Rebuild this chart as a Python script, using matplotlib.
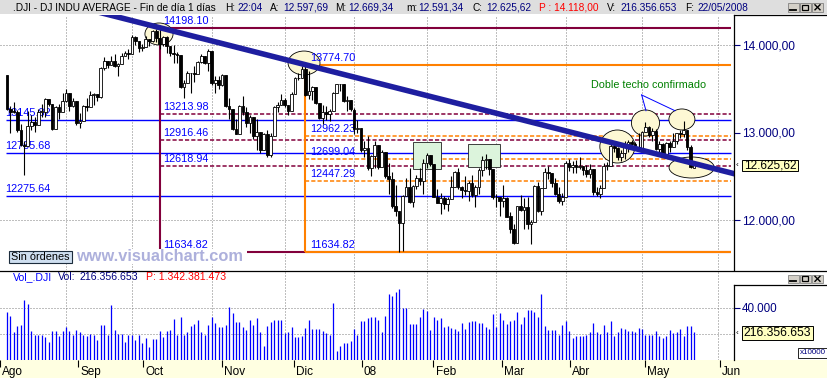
import matplotlib
matplotlib.use("Agg")
import matplotlib.pyplot as plt
from matplotlib.patches import Ellipse, Rectangle

plt.rcParams['font.family'] = ['Liberation Sans', 'DejaVu Sans']
plt.rcParams['lines.scale_dashes'] = False

W, H = 828, 378

# ---------------- data (daily .DJI, 9 Aug 2007 - 22 May 2008) ----------------
opens_aug = [13657, 13270, 13240, 13236, 13028, 12860, 12846, 13079, 13121, 13091, 13236, 13236, 13378, 13322, 13042, 13289, 13239]
highs_aug = [13660, 13300, 13350, 13260, 13100, 12900, 13250, 13200, 13180, 13270, 13330, 13390, 13380, 13322, 13300, 13330, 13450]
lows_aug = [13260, 12990, 13220, 13010, 12850, 12518, 12846, 13030, 13010, 13091, 13180, 13180, 13300, 13030, 13042, 13150, 13239]
closes_aug = [13271, 13240, 13237, 13029, 12861, 12846, 13079, 13121, 13091, 13236, 13236, 13379, 13322, 13042, 13289, 13239, 13358]

opens_sep = [13358, 13448, 13305, 13363, 13113, 13128, 13308, 13292, 13425, 13442, 13403, 13739, 13815, 13767, 13820, 13759, 13779, 13878, 13913]
highs_sep = [13500, 13448, 13390, 13363, 13220, 13320, 13390, 13470, 13450, 13442, 13750, 13860, 13820, 13880, 13900, 13790, 13910, 13935, 13950]
lows_sep = [13350, 13250, 13290, 13090, 13050, 13128, 13250, 13292, 13320, 13360, 13400, 13720, 13740, 13767, 13750, 13650, 13779, 13870, 13840]
closes_sep = [13449, 13305, 13363, 13113, 13128, 13308, 13292, 13425, 13443, 13403, 13739, 13816, 13767, 13820, 13759, 13779, 13878, 13913, 13896]

opens_oct = [13896, 14087, 14047, 13968, 13974, 14066, 14044, 14164, 14079, 14015, 14093, 13985, 13913, 13893, 13889, 13522, 13567, 13676, 13675, 13672, 13807, 13870, 13792]
highs_oct = [14110, 14100, 14047, 14010, 14100, 14066, 14170, 14180, 14198.10, 14100, 14100, 13985, 14000, 13920, 13890, 13600, 13700, 13680, 13760, 13820, 13900, 13870, 13950]
lows_oct = [13896, 14000, 13920, 13930, 13974, 13990, 14030, 14040, 13960, 13990, 13910, 13870, 13800, 13800, 13510, 13400, 13567, 13450, 13580, 13672, 13800, 13780, 13700]
closes_oct = [14088, 14047, 13968, 13974, 14066, 14044, 14165, 14079, 14015, 14093, 13985, 13913, 13893, 13889, 13522, 13567, 13676, 13675, 13672, 13807, 13870, 13792, 13930]

opens_nov = [13930, 13568, 13595, 13543, 13661, 13300, 13266, 13043, 12988, 13307, 13231, 13110, 13177, 12958, 13010, 12799, 12981, 12743, 12958, 13289, 13312]
highs_nov = [13930, 13650, 13650, 13670, 13661, 13400, 13266, 13150, 13320, 13420, 13290, 13200, 13177, 13150, 13010, 12990, 13030, 12990, 13300, 13350, 13440]
lows_nov = [13540, 13450, 13500, 13530, 13290, 13150, 13030, 12980, 12988, 13200, 13060, 13000, 12930, 12800, 12770, 12799, 12720, 12720, 12958, 13230, 13312]
closes_nov = [13568, 13595, 13543, 13661, 13300, 13266, 13043, 12988, 13307, 13231, 13110, 13177, 12958, 13010, 12799, 12981, 12743, 12958, 13289, 13312, 13372]

opens_dec = [13372, 13315, 13249, 13445, 13620, 13626, 13727, 13433, 13474, 13518, 13340, 13167, 13232, 13207, 13246, 13451, 13549, 13552, 13360, 13366]
highs_dec = [13390, 13315, 13460, 13630, 13680, 13760, 13774.70, 13700, 13530, 13518, 13340, 13320, 13300, 13270, 13460, 13560, 13560, 13552, 13420, 13366]
lows_dec = [13290, 13200, 13249, 13445, 13600, 13626, 13420, 13380, 13370, 13330, 13150, 13100, 13140, 13130, 13246, 13451, 13470, 13350, 13250, 13250]
closes_dec = [13315, 13249, 13445, 13620, 13626, 13727, 13433, 13474, 13518, 13340, 13167, 13232, 13207, 13246, 13451, 13549, 13552, 13360, 13366, 13265]

opens_jan = [13262, 13044, 13057, 12800, 12827, 12589, 12735, 12853, 12606, 12778, 12501, 12466, 12159, 12099, 11971, 12270, 12379, 12207, 12384, 12480, 12443]
highs_jan = [13280, 13140, 13057, 12900, 12960, 12740, 12900, 12853, 12800, 12778, 12650, 12550, 12400, 12100, 12290, 12480, 12600, 12400, 12520, 12600, 12700]
lows_jan = [12980, 12990, 12780, 12720, 12570, 12500, 12600, 12580, 12606, 12480, 12300, 12140, 12050, 11634.82, 11650, 12270, 12200, 12150, 12350, 12400, 12300]
closes_jan = [13044, 13057, 12800, 12827, 12589, 12735, 12853, 12606, 12778, 12501, 12466, 12159, 12099, 11971, 12270, 12379, 12207, 12384, 12480, 12443, 12650]

opens_feb = [12650, 12743, 12635, 12265, 12200, 12247, 12182, 12240, 12373, 12552, 12377, 12348, 12337, 12427, 12284, 12381, 12570, 12685, 12694, 12582]
highs_feb = [12770, 12743, 12635, 12360, 12310, 12280, 12260, 12500, 12560, 12600, 12390, 12500, 12450, 12520, 12400, 12600, 12730, 12750, 12694, 12582]
lows_feb = [12600, 12620, 12260, 12190, 12070, 12130, 12100, 12240, 12373, 12360, 12250, 12290, 12220, 12260, 12150, 12300, 12500, 12580, 12520, 12240]
closes_feb = [12743, 12635, 12265, 12200, 12247, 12182, 12240, 12373, 12552, 12377, 12348, 12337, 12427, 12284, 12381, 12570, 12685, 12694, 12582, 12266]

opens_mar = [12266, 12259, 12214, 12255, 12040, 11894, 11740, 12157, 12110, 12146, 11951, 11972, 12393, 12100, 12361, 12549, 12533, 12423, 12302, 12216]
highs_mar = [12300, 12260, 12400, 12260, 12090, 11960, 12160, 12290, 12250, 12260, 12000, 12400, 12430, 12370, 12600, 12620, 12533, 12480, 12380, 12310]
lows_mar = [12150, 12050, 12150, 12030, 11850, 11730, 11740, 12100, 11900, 11900, 11730, 11972, 12090, 12060, 12361, 12470, 12380, 12290, 12200, 12170]
closes_mar = [12259, 12214, 12255, 12040, 11894, 11740, 12157, 12110, 12146, 11951, 11972, 12393, 12100, 12361, 12549, 12533, 12423, 12302, 12216, 12263]

opens_apr = [12263, 12654, 12609, 12626, 12609, 12612, 12576, 12527, 12582, 12325, 12302, 12362, 12619, 12620, 12849, 12825, 12720, 12763, 12849, 12892, 12872, 12831]
highs_apr = [12670, 12700, 12680, 12690, 12720, 12620, 12630, 12640, 12582, 12380, 12400, 12650, 12660, 12890, 12890, 12830, 12800, 12900, 12920, 12920, 12890, 13000]
lows_apr = [12263, 12560, 12540, 12540, 12580, 12510, 12490, 12480, 12290, 12270, 12250, 12362, 12570, 12620, 12780, 12690, 12680, 12700, 12780, 12860, 12800, 12800]
closes_apr = [12654, 12609, 12626, 12609, 12612, 12576, 12527, 12582, 12325, 12302, 12362, 12619, 12620, 12849, 12825, 12720, 12763, 12849, 12892, 12872, 12831, 12820]

opens_may = [12820, 13010, 13058, 12970, 13021, 12814, 12867, 12746, 12876, 12832, 12898, 12993, 12987, 13028, 12829, 12597.69]
highs_may = [13020, 13120, 13070, 13050, 13040, 12900, 12880, 12890, 12900, 13000, 13000, 13030, 13136, 13028, 12860, 12669.34]
lows_may = [12810, 13010, 12950, 12900, 12800, 12780, 12720, 12746, 12780, 12832, 12870, 12940, 12950, 12800, 12590, 12591.34]
closes_may = [13010, 13058, 12970, 13021, 12814, 12867, 12746, 12876, 12832, 12898, 12993, 12987, 13028, 12829, 12601, 12625.62]

# volume, in units of 10000 shares (axis "x10000")
volumes = [
    36636, 34056, 21156, 26316, 27090, 46440, 43086, 22446, 19092, 19092, 19092, 17544, 14190, 22446, 21930, 18576, 22446,
    25542, 22446, 19092, 22962, 21672, 19092, 18576, 19866, 19092, 15480, 27090, 27090, 19092, 42570, 22962, 19866, 19866, 14190, 19092,
    19092, 15480, 19092, 13416, 17286, 9804, 16512, 16512, 22446, 18060, 22446, 22962, 31734, 19092, 33282, 19092, 21672, 25800, 27606, 30960, 21672, 19092, 27090,
    33282, 28380, 25542, 25026, 27090, 40764, 35862, 29154, 29154, 25542, 22962, 30960, 27090, 32508, 21672, 10836, 26316, 29154, 30444, 30444, 30444,
    20640, 21672, 25026, 18060, 17544, 18576, 24510, 30960, 23736, 23736, 23736, 22446, 20640, 19092, 43602, 6966, 10836, 13416, 13416, 14964,
    23736, 19092, 29928, 29928, 32508, 33282, 33282, 30960, 21672, 34056, 51084, 49536, 52374, 54954, 39732, 39732, 27864, 27864, 27864, 33282, 39216,
    37926, 23220, 33282, 30444, 32508, 25542, 26316, 24510, 23736, 22446, 28638, 23736, 29154, 29670, 29928, 28638, 28638, 25542, 23994, 35604,
    25542, 35862, 30444, 27864, 29928, 30960, 37152, 27864, 33282, 38700, 38700, 37152, 33024, 51084, 26316, 23220, 23220, 23220, 19092, 27090,
    29928, 22446, 17286, 18576, 18576, 18576, 19092, 21672, 28638, 21156, 19866, 27090, 21156, 30186, 18576, 21156, 24510, 23994, 21930, 22446, 21156, 24510,
    23994, 19092, 19092, 19092, 22446, 18576, 17286, 18576, 23220, 20640, 21156, 23994, 18576, 26316, 26316, 21636,
]

opens = opens_aug + opens_sep + opens_oct + opens_nov + opens_dec + opens_jan + opens_feb + opens_mar + opens_apr + opens_may
highs = highs_aug + highs_sep + highs_oct + highs_nov + highs_dec + highs_jan + highs_feb + highs_mar + highs_apr + highs_may
lows = lows_aug + lows_sep + lows_oct + lows_nov + lows_dec + lows_jan + lows_feb + lows_mar + lows_apr + lows_may
closes = closes_aug + closes_sep + closes_oct + closes_nov + closes_dec + closes_jan + closes_feb + closes_mar + closes_apr + closes_may

month_labels = ['Ago', 'Sep', 'Oct', 'Nov', 'Dic', '08', 'Feb', 'Mar', 'Abr', 'May', 'Jun']
month_index = [-6, 17, 36, 59, 80, 100, 121, 141, 161, 183, 205]

price_ticks = [12000, 13000, 14000]
price_tick_labels = ['12.000,00', '13.000,00', '14.000,00']
vol_ticks = [40000]
vol_tick_labels = ['40.000']

# Fibonacci retracements and support lines
fib1_anchor = 44            # bar of the 14198.10 high
fib1_levels = [14198.10, 13213.98, 12916.46, 12618.94, 11634.82]
fib1_labels = ['14198.10', '13213.98', '12916.46', '12618.94', '11634.82']
fib2_anchor = 86            # bar of the 13774.70 high
fib2_levels = [13774.70, 12962.23, 12699.04, 12447.29, 11634.82]
fib2_labels = ['13774.70', '12962.23', '12699.04', '12447.29', '11634.82']
support_levels = [13145.82, 12765.68, 12275.64]
support_labels = ['13145.82', '12765.68', '12275.64']

# down trend line through the two highs
trend_pts = [(44, 14198.10), (86, 13774.70)]

# ---------------- layout helpers ----------------
PXB = 3.47     # pixels per bar
XOFF = 7.0     # pixel of bar 0
X0 = (0 - XOFF) / PXB
X1 = (734 - XOFF) / PXB
XR = (731.5 - XOFF) / PXB


def rect(x0, y0, x1, y1):
    return [x0 / W, 1 - y1 / H, (x1 - x0) / W, (y1 - y0) / H]


fig = plt.figure(figsize=(W / 100, H / 100), dpi=100)
fig.patch.set_facecolor('white')

MAROON = '#82003c'
ORANGE = '#ff8000'
BLUE = '#0000ff'
NAVY = '#000080'
TREND = '#1e1ea0'
GRID = '#808080'
DOT = (0, (0.72, 1.44))
DASH = (0, (3.0, 1.5))

# ---------------- price pane ----------------
ax = fig.add_axes(rect(0, 15, 734, 270))
ax.set_xlim(X0, X1)
ax.set_ylim(14000 - (270 - 45) / 0.0875, 14000 + (45 - 15) / 0.0875)
ax.set_facecolor('white')
for s in ax.spines.values():
    s.set_visible(False)
ax.set_xticks([])
ax.yaxis.set_ticks_position('right')
ax.set_yticks(price_ticks, labels=price_tick_labels)
ax.tick_params(axis='y', direction='out', length=4.3, width=0.8, color=NAVY,
               labelcolor=NAVY, labelsize=8.6, pad=1.3)

# grid
for m in month_index:
    ax.axvline(m, color=GRID, lw=0.72, ls=DOT, zorder=1)
for p in [12000, 14000]:
    ax.axhline(p, color=GRID, lw=0.72, ls=DOT, zorder=1)

# support lines (blue)
for lv, lb in zip(support_levels, support_labels):
    ax.hlines(lv, -0.3, XR, color=BLUE, lw=1.0, zorder=2)
    ax.text(-0.6, lv + 46, lb, color=BLUE, fontsize=7.8, va='baseline', ha='left', zorder=3)

# fib 1 (maroon)
ax.vlines(fib1_anchor, fib1_levels[-1], fib1_levels[0], color=MAROON, lw=1.5, zorder=2)
for k, (lv, lb) in enumerate(zip(fib1_levels, fib1_labels)):
    solid = k in (0, len(fib1_levels) - 1)
    ax.hlines(lv, fib1_anchor, XR, color=MAROON, lw=1.5 if solid else 1.1,
              linestyles='solid' if solid else DASH, zorder=2)
    ax.text(fib1_anchor + 0.95, lv + 46, lb, color=BLUE, fontsize=7.8, va='baseline', ha='left', zorder=3)

# fib 2 (orange)
ax.vlines(fib2_anchor, fib2_levels[-1], fib2_levels[0], color=ORANGE, lw=1.5, zorder=2.1)
for k, (lv, lb) in enumerate(zip(fib2_levels, fib2_labels)):
    solid = k in (0, len(fib2_levels) - 1)
    ax.hlines(lv, fib2_anchor, XR, color=ORANGE, lw=1.5 if solid else 1.1,
              linestyles='solid' if solid else DASH, zorder=2.1)
    ax.text(fib2_anchor + 1.3, lv + 46, lb, color=BLUE, fontsize=7.8, va='baseline', ha='left', zorder=3)

# highlight ellipses (center bar, center price, width bars, height points)
ellipses = [(43.8, 14126, 8.1, 251), (85.6, 13794, 9.2, 274), (175.9, 12840, 10.1, 377),
            (184.0, 13109, 8.1, 297), (194.5, 13149, 7.5, 240), (197.3, 12600, 13.0, 240)]
for cx, cy, ew, eh in ellipses:
    ax.add_patch(Ellipse((cx, cy), ew, eh, facecolor='#fdf8d4', edgecolor='black', lw=0.6, zorder=2.5))

# green boxes
boxes = [(117.1, 12579, 7.9, 309), (132.9, 12609, 9.2, 260)]
for bx, by, bw, bh in boxes:
    ax.add_patch(Rectangle((bx, by), bw, bh, facecolor='#dcf4dc', edgecolor='#202020', lw=0.6, zorder=2.5))

# candles
xs = list(range(len(closes)))
ax.vlines(xs, lows, highs, color='black', lw=0.8, zorder=4)
for i in xs:
    o, c = opens[i], closes[i]
    lo, hi = min(o, c), max(o, c)
    ht = max(hi - lo, 6)
    ax.bar(i, ht, bottom=lo, width=0.78, color='white' if c >= o else 'black',
           edgecolor='black', linewidth=0.6, zorder=5)

# trend line
(ta, pa), (tb, pb) = trend_pts
slope = (pb - pa) / (tb - ta)
tx = [20, 212]
ax.plot(tx, [pa + slope * (t - ta) for t in tx], color=TREND, lw=4.0, zorder=6,
        solid_capstyle='butt')

# annotation
ax.text(185.0, 13543, 'Doble techo confirmado', color='#008000', fontsize=7.75,
        ha='center', va='center', zorder=7)
ax.plot([182.9, 184.15], [13429, 13249], color=BLUE, lw=0.7, zorder=7)
ax.plot([182.9, 192.5], [13429, 13249], color=BLUE, lw=0.7, zorder=7)

# ---------------- volume pane ----------------
av = fig.add_axes(rect(0, 270, 734, 360))
av.set_xlim(X0, X1)
av.set_ylim(0, 90 / 1.3 * 1000)
for s in av.spines.values():
    s.set_visible(False)
av.set_xticks([])
av.yaxis.set_ticks_position('right')
av.set_yticks(vol_ticks, labels=vol_tick_labels)
av.tick_params(axis='y', direction='out', length=4.3, width=0.8, color=NAVY,
               labelcolor=NAVY, labelsize=8.4, pad=1.3)
for m in month_index:
    av.axvline(m, color=GRID, lw=0.72, ls=DOT, zorder=1)
for v in [20000, 40000]:
    av.axhline(v, color=GRID, lw=0.72, ls=DOT, zorder=1)
av.vlines(xs, 0, volumes, color=BLUE, lw=0.9, zorder=3)

# ---------------- date strip ----------------
ad = fig.add_axes(rect(0, 360, 828, 378))
ad.set_xlim(X0, (828 - XOFF) / PXB)
ad.set_ylim(0, 1)
ad.set_facecolor('#ffffe1')
for s in ad.spines.values():
    s.set_visible(False)
ad.set_yticks([])
ad.set_xticks(month_index, labels=[''] * len(month_index))
ad.tick_params(axis='x', direction='in', top=True, bottom=False, length=5, width=0.8, color='black')
for m, lb in zip(month_index, month_labels):
    ad.text(m + 0.62, 0.14, lb, fontsize=8.5, color='black', ha='left', va='baseline', clip_on=True)

# ---------------- overlay (window chrome) ----------------
ao = fig.add_axes([0, 0, 1, 1], zorder=20)
ao.set_xlim(0, W)
ao.set_ylim(H, 0)
ao.axis('off')
ao.patch.set_visible(False)

ao.add_patch(Rectangle((0, 0), W, 14, facecolor='#dedede', edgecolor='none'))
title_parts = [
    (13, '.DJI - DJ INDU AVERAGE - Fin de día 1 días', 'black'),
    (225, 'H:', 'black'), (237, '22:04', NAVY),
    (270, 'A:', 'black'), (283, '12.597,69', NAVY),
    (335, 'M:', 'black'), (348, '12.669,34', NAVY),
    (406, 'm:', 'black'), (418, '12.591,34', NAVY),
    (473, 'C:', 'black'), (486, '12.625,62', NAVY),
    (539, 'P : 14.118,00', '#ff0000'),
    (607, 'V:', 'black'), (620, '216.356.653', NAVY),
    (685, 'F:', 'black'), (697, '22/05/2008', NAVY),
]
for x, t, c in title_parts:
    ao.text(x, 7.6, t, color=c, fontsize=7.3, ha='left', va='center')


def buttons(y):
    for bx in (788, 800, 812):
        ao.add_patch(Rectangle((bx, y), 11, 8.5, facecolor='#d4d0c8', edgecolor='#707070', lw=0.5))
    ao.plot([790.5, 796], [y + 6.5, y + 6.5], color='black', lw=1.3)
    ao.add_patch(Rectangle((802.5, y + 1.8), 6, 5, facecolor='none', edgecolor='black', lw=0.9))
    ao.plot([815, 820], [y + 1.8, y + 6.8], color='black', lw=1.0)
    ao.plot([815, 820], [y + 6.8, y + 1.8], color='black', lw=1.0)


buttons(3.0)
buttons(274.5)

# frame lines
ao.plot([734, 734], [15, 270], color='black', lw=0.9)
ao.plot([734, 734], [285, 360], color='black', lw=0.9)
ao.plot([734, W], [15, 15], color='black', lw=0.9)
ao.plot([0, W], [270.5, 270.5], color='black', lw=0.9)
ao.plot([734, W], [285, 285], color='black', lw=0.9)

# last value boxes
ao.add_patch(Rectangle((741.7, 159.8), 56.6, 11.6, facecolor='#ffffc0', edgecolor='black', lw=0.7))
ao.text(770, 165.8, '12.625,62', fontsize=8.5, color='black', ha='center', va='center')
ao.text(737.5, 165.8, '‹', fontsize=6, color='black', ha='center', va='center')
ao.add_patch(Rectangle((741.7, 325.8), 71.6, 14.0, facecolor='#ffffc0', edgecolor='black', lw=0.7))
ao.text(777.5, 333, '216.356.653', fontsize=8.7, color='black', ha='center', va='center')
ao.text(737.5, 333, '‹', fontsize=6, color='black', ha='center', va='center')
ao.add_patch(Rectangle((797.7, 348.3), 30, 9.2, facecolor='white', edgecolor='black', lw=0.6))
ao.text(812.7, 353, 'x10000', fontsize=5.8, color=NAVY, ha='center', va='center')

# "Sin órdenes" and watermark
ao.add_patch(Rectangle((73, 248.5), 174, 15, facecolor='white', edgecolor='none'))
ao.text(160, 256.5, 'www.visualchart.com', fontsize=11.8, fontweight='bold', color='#adb0dc',
        ha='center', va='center')
ao.add_patch(Rectangle((9.3, 250.7), 62.4, 12.0, facecolor='#cfdff0', edgecolor='#1c2c3c', lw=0.8))
ao.text(40.5, 256.8, 'Sin órdenes', fontsize=7.8, color='black', ha='center', va='center')

# volume header
vol_parts = [(13, 'Vol_.DJI', BLUE), (58, 'Vol:', NAVY), (80, '216.356.653', NAVY),
             (146, 'P: 1.342.381.473', '#ff0000')]
for x, t, c in vol_parts:
    ao.text(x, 277, t, color=c, fontsize=7.6, ha='left', va='center')

fig.savefig('out.png', dpi=100)
